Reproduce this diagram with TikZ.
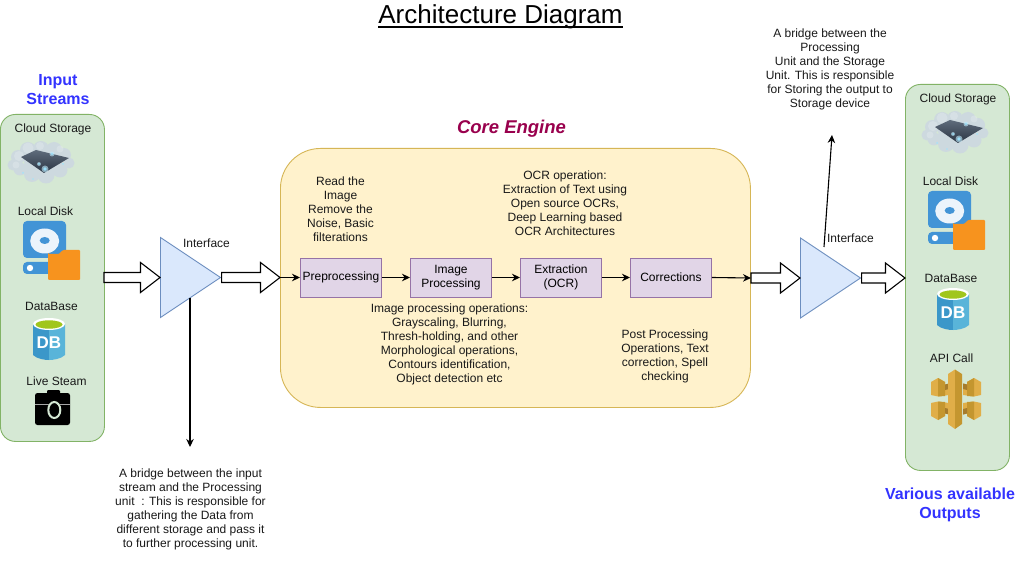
\documentclass[tikz,border=0pt]{standalone}
\usepackage{fontspec}
\setmainfont{Liberation Sans}
\usetikzlibrary{shapes.geometric,calc,arrows.meta}
\definecolor{panelfill}{HTML}{D5E8D4}
\definecolor{panelline}{HTML}{82B366}
\definecolor{corefill}{HTML}{FFF2CC}
\definecolor{coreline}{HTML}{D6B656}
\definecolor{stepfill}{HTML}{E1D5E7}
\definecolor{stepline}{HTML}{9673A6}
\definecolor{trifill}{HTML}{DAE8FC}
\definecolor{triline}{HTML}{6C8EBF}
\definecolor{headblue}{HTML}{3333FF}
\definecolor{headred}{HTML}{99004D}
\definecolor{diskblue}{HTML}{4294D6}
\definecolor{folder}{HTML}{F7931E}
\definecolor{dbdark}{HTML}{3B97C9}
\definecolor{dblight}{HTML}{59B4D9}
\definecolor{dbgreen}{HTML}{A0C61C}
\definecolor{apidark}{HTML}{A67C2C}
\definecolor{apimid}{HTML}{C4962F}
\definecolor{apilight}{HTML}{E0AE48}
\definecolor{cloudc}{HTML}{CDD9DF}
\definecolor{cloudl}{HTML}{E3E9ED}
\definecolor{clouddk}{HTML}{2A3442}
\definecolor{cloudtop}{HTML}{5F6C7C}
\tikzset{
  x=1pt,y=-1pt,
  txt/.style={font=\fontsize{12}{14}\selectfont,align=center,inner sep=0pt,text=black!90,yshift=-1.5pt},
  head/.style={font=\fontsize{16}{19}\selectfont\bfseries,align=center,inner sep=0pt,text=headblue,yshift=-1.5pt},
  panel/.style={draw=panelline,fill=panelfill,line width=.9pt,rounded corners=15pt,minimum width=104pt,inner sep=0pt,anchor=north west},
  corebox/.style={draw=coreline,fill=corefill,line width=.9pt,rounded corners=40pt,minimum width=470pt,minimum height=259pt,inner sep=0pt,anchor=north west},
  stepbox/.style={draw=stepline,fill=stepfill,line width=.9pt,minimum width=81pt,minimum height=39pt,inner sep=0pt,anchor=west,font=\fontsize{12}{14}\selectfont,align=center},
  tri/.style={draw=triline,fill=trifill,line width=.9pt,isosceles triangle,isosceles triangle stretches,minimum width=80pt,minimum height=60pt,inner sep=0pt,anchor=lower side},
  blk/.style={draw=black,fill=white,line width=1.1pt,line join=miter},
  conn/.style={draw=black,line width=1.1pt,-{Stealth[length=8pt,width=7.5pt]}},
}
\newcommand{\lw}[1]{\raisebox{-2pt}{#1}}
\newcommand{\blockarrow}[2]{%
  \draw[blk] ($(#1)+(0,-5)$) -- ($(#2)+(-19.5,-5)$) -- ($(#2)+(-19.5,-15)$) -- (#2)
    -- ($(#2)+(-19.5,15)$) -- ($(#2)+(-19.5,5)$) -- ($(#1)+(0,5)$) -- cycle;}
% icons: #1,#2 = top left corner of the icon in picture pixels
\newcommand{\cloudicon}[2]{\begin{scope}[shift={(#1,#2)}]
  \fill[cloudc] (5,25) circle (5.5) (10,17) circle (7) (20,10) circle (8) (33,9) circle (8) (46,10) circle (8)
    (56,15) circle (7) (61,23) circle (5.5) (52,30) circle (7.5) (38,35) circle (8.5) (24,34) circle (8) (12,29) circle (6.5)
    (30,20) circle (14) (45,22) circle (10);
  \fill[cloudl,opacity=.45] (11,16) circle (5) (20,8) circle (5.5) (32,6) circle (4) (8,25) circle (3.5) (52,9) circle (3.5);
  \shade[top color=cloudtop,bottom color=clouddk] (13,17) -- (28,10) -- (61,18) -- (36,33) -- cycle;
  \fill[cyan!25,opacity=.6] (37,29) circle (3.5) (44,14) circle (2.5) (31,24) circle (2);
  \fill[white!60!cyan] (37,29) circle (1.8) (44,14) circle (1.1) (31,24) circle (1);
  \fill[cyan!35] (15,33) circle (1) (25,39) circle (.8) (55,24) circle (1);
\end{scope}}
\newcommand{\diskicon}[2]{\begin{scope}[shift={(#1,#2)}]
  \fill[diskblue,rounded corners=4pt] (0,0) rectangle (43,37);
  \fill[diskblue,rounded corners=4pt] (0,41) rectangle (43,53);
  \fill[white!90!diskblue] (21.7,20) ellipse (14.5 and 12.5);
  \fill[diskblue] (21.7,19.5) ellipse (5 and 3.5);
  \fill[white] (7,47) circle (3.2);
  \fill[folder,rounded corners=1pt] (25,31) -- (25,59) -- (57,59) -- (57,29) -- (40,29) -- (36,33) -- (25,33) -- cycle;
\end{scope}}
\newcommand{\dbicon}[2]{\begin{scope}[shift={(#1,#2)}]
  \fill[dbdark] (0,6) -- (0,37) .. controls (4,41) and (12,42) .. (16,42) -- (16,6) -- cycle;
  \fill[dblight] (32,6) -- (32,37) .. controls (28,41) and (20,42) .. (16,42) -- (16,6) -- cycle;
  \fill[white] (16,6) ellipse (16 and 6);
  \fill[dbgreen] (16,6.5) ellipse (13.5 and 4.2);
  \node[font=\fontsize{17}{17}\selectfont\bfseries,text=white,inner sep=0pt] (db#1) at (16,25) {DB};
\end{scope}}
\newcommand{\camicon}[2]{\begin{scope}[shift={(#1,#2)}]
  \fill[black,rounded corners=2.5pt] (0,1) rectangle (35,33);
  \fill[black,rounded corners=1pt] (12,-2) rectangle (25,3);
  \draw[white!65!black,line width=.9pt] (0,12) -- (35,12);
  \fill[black] (19.3,18) ellipse (7 and 9);
  \draw[panelfill,line width=2pt] (19.3,18) ellipse (6 and 8);
\end{scope}}
\newcommand{\apiarm}{%
  \fill[apilight] (0,13) -- (7,9) -- (14,13) -- (14,15.5) -- (18,14.5) -- (18,26) -- (7,27.5) -- (0,26) -- cycle;
  \fill[apimid] (7,9) -- (14,13) -- (14,27) -- (7,27.5) -- cycle;
  \fill[apidark] (14,15.5) -- (18,14.5) -- (18,20) -- (14,21) -- cycle;
}
\newcommand{\apiicon}[2]{\begin{scope}[shift={(#1,#2)}]
  \apiarm
  \begin{scope}[shift={(50,0)},xscale=-1]\apiarm\end{scope}
  \begin{scope}[shift={(0,60)},yscale=-1]\apiarm\end{scope}
  \begin{scope}[shift={(50,60)},xscale=-1,yscale=-1]\apiarm\end{scope}
  \fill[apilight] (17,5) -- (24,0.5) -- (24,60) -- (17,55) -- cycle;
  \fill[apimid] (31,5) -- (24,0.5) -- (24,60) -- (31,55) -- cycle;
\end{scope}}
\begin{document}
\begin{tikzpicture}
\useasboundingbox (0,0) rectangle (1028,569);
\fill[white] (0,0) rectangle (1028,569);
\node[font=\fontsize{26}{30}\selectfont,inner sep=0pt,text=black,anchor=base] (title) at (500.5,23.5) {Architecture Diagram};
\draw[black,line width=1.3pt] ($(title.base west)+(0,3.5)$) -- ($(title.base east)+(0,3.5)$);
% panels
\node[panel,minimum height=327pt] (inpanel) at (0,114) {};
\node[panel,minimum height=386pt] (outpanel) at (905,84) {};
\node[corebox] (core) at (280,148) {};
% headings
\node[head] (inhead) at (58,88) {Input\\Streams};
\node[head] (outhead) at (950,503) {Various available\\Outputs};
\node[font=\fontsize{18.5}{21}\selectfont\bfseries\itshape,inner sep=0pt,text=headred,yshift=-1.5pt] (corehead) at (511.5,127) {Core Engine};
% panel labels
\node[txt] (l1) at (53,128) {Cloud Storage};
\node[txt] (l2) at (45.5,210) {Local Disk};
\node[txt] (l3) at (51.5,305) {DataBase};
\node[txt] (l4) at (56.5,380) {Live Steam};
\node[txt] (r1) at (958,98) {Cloud Storage};
\node[txt] (r2) at (950.5,180) {Local Disk};
\node[txt] (r3) at (951,277) {DataBase};
\node[txt] (r4) at (951.5,357) {API Call};
% icons
\cloudicon{8}{140}
\diskicon{23}{221}
\dbicon{33}{318}
\camicon{35}{392}
\cloudicon{922}{110}
\diskicon{928}{191}
\dbicon{937}{288}
\apiicon{931}{369}
% triangles
\node[tri] (t1) at (160,277.5) {};
\node[tri] (t2) at (800,278) {};
\node[txt] (if1) at (206.5,242) {Interface};
\node[txt] (if2) at (850.5,237) {Interface};
% steps
\node[stepbox] (s1) at (300,277.5) {\lw{Preprocessing}};
\node[stepbox] (s2) at (410,277.5) {\lw{Image}\\\lw{Processing}};
\node[stepbox] (s3) at (520,277.5) {\lw{Extraction}\\\lw{(OCR)}};
\node[stepbox] (s4) at (630,277.5) {\lw{Corrections}};
% free ends
\coordinate (a1s) at (104,277.5);
\coordinate (a2e) at (280,277.5);
\coordinate (a3s) at (751,278);
\coordinate (a4e) at (905,278);
\coordinate (d1s) at (190,298);
\coordinate (d1e) at (190,447);
\coordinate (u1s) at (824,247);
\coordinate (u1e) at (832,135);
% block arrows
\blockarrow{a1s}{t1.lower side}
\blockarrow{t1.apex}{a2e}
\blockarrow{a3s}{t2.lower side}
\blockarrow{t2.apex}{a4e}
% connectors
\draw[conn] (a2e) -- (s1.west);
\draw[conn] (s1) -- (s2);
\draw[conn] (s2) -- (s3);
\draw[conn] (s3) -- (s4);
\draw[conn] (s4.east) -- (a3s);
\draw[conn] (d1s) -- (d1e);
\draw[conn] (u1s) -- (u1e);
% notes
\node[txt] (n1) at (340.5,208) {Read the\\Image\\Remove the\\Noise, Basic\\filterations};
\node[txt] (n2) at (565,202) {OCR operation:\\Extraction of Text using\\Open source OCRs,\\Deep Learning based\\OCR Architectures};
\node[txt] (n3) at (449.5,343) {Image processing operations:\\Grayscaling, Blurring,\\Thresh-holding, and other\\Morphological operations,\\Contours identification,\\Object detection etc};
\node[txt] (n4) at (665,355) {Post Processing\\Operations, Text\\correction, Spell\\checking};
\node[txt] (n5) at (190.5,508) {A bridge between the input\\stream and the Processing\\unit~ : This is responsible for\\gathering the Data from\\different storage and pass it\\to further processing unit.};
\node[txt] (n6) at (830,67.5) {A bridge between the\\Processing\\Unit and the Storage\\Unit. This is responsible\\for Storing the output to\\Storage device};
\end{tikzpicture}
\end{document}
